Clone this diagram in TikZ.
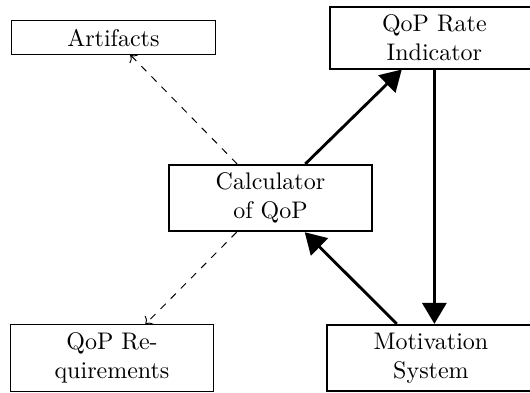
\documentclass[tikz,border=0pt]{standalone}
\usepackage{tikz}
\usetikzlibrary{arrows.meta, positioning}
\tikzset{
  plainbox/.style={draw, thin, text width=78pt, align=center, inner sep=3.33pt},
  corebox/.style={plainbox, thick},
  widebox/.style={corebox, text width=80pt},
  flow/.style={very thick, -{Triangle[length=8.7pt,width=10pt]}},
  link/.style={thin, dashed, ->}
}

\begin{document}
\begin{tikzpicture}
    \useasboundingbox (0,0) rectangle (7.76,5.74);
    % Nodes
    \node[plainbox] (artifacts) at (1.66,5.19) {Artifacts};
    \node[widebox] (rate) at (6.36,5.19) {QoP Rate\\Indicator};
    \node[corebox] (calc) at (3.96,2.84) {Calculator\\of QoP};
    \node[plainbox] (reqs) at (1.64,0.5) {QoP Re-\\quirements};
    \node[widebox] (motiv) at (6.31,0.5) {Motivation\\System};

    % Connectors
    \draw[link] (calc) -- (artifacts);
    \draw[link] (calc) -- (reqs);
    \draw[flow] (calc) -- (rate);
    \draw[flow] (rate.south) -- (rate.south |- motiv.north);
    \draw[flow] (motiv) -- (calc);
\end{tikzpicture}
\end{document}
